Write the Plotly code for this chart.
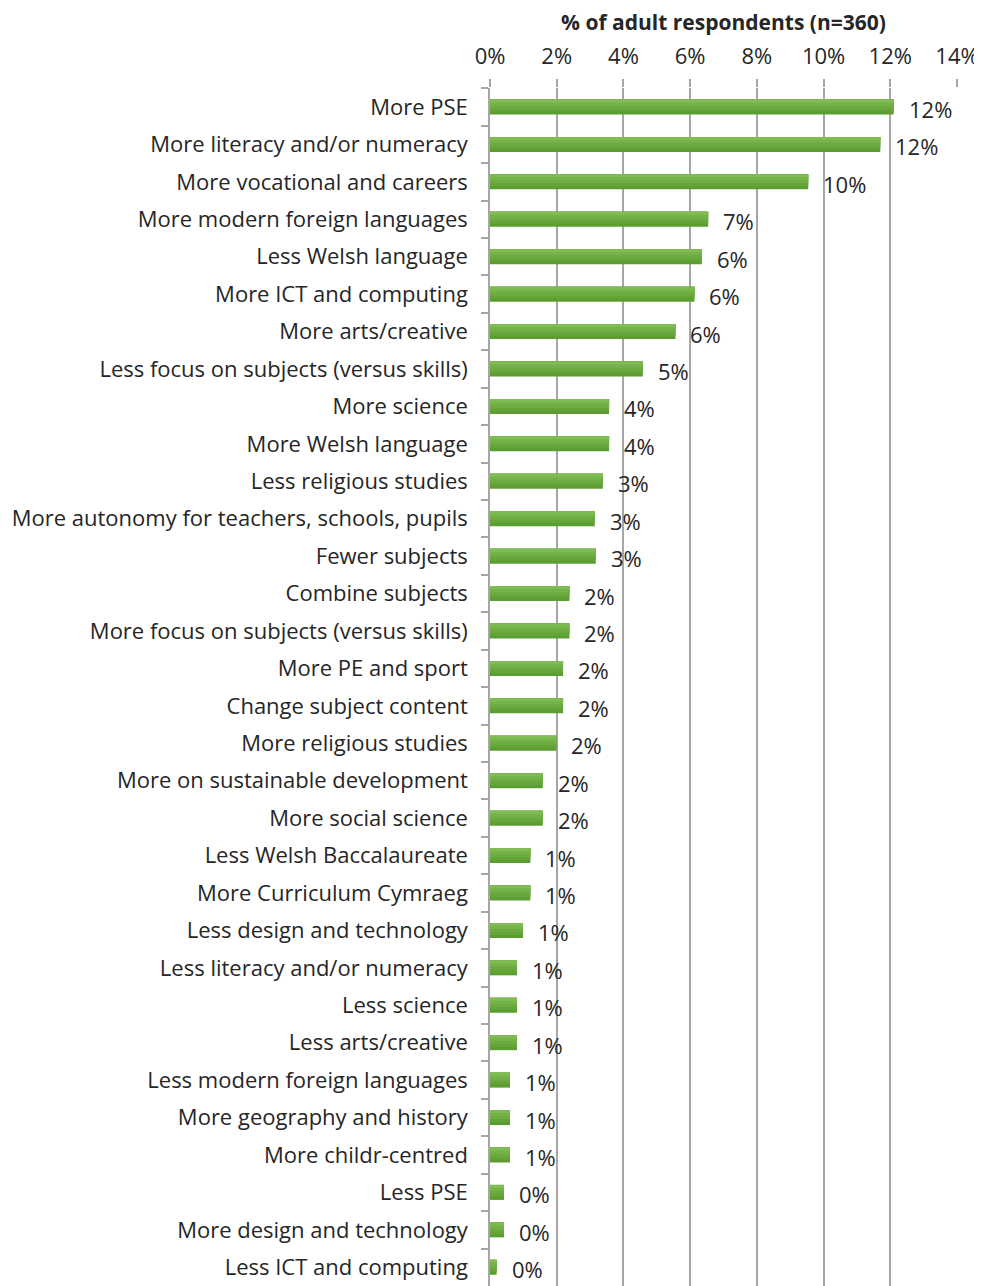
import plotly.graph_objects as go

categories = [
    "More PSE", "More literacy and/or numeracy", "More vocational and careers",
    "More modern foreign languages", "Less Welsh language", "More ICT and computing",
    "More arts/creative", "Less focus on subjects (versus skills)", "More science",
    "More Welsh language", "Less religious studies",
    "More autonomy for teachers, schools, pupils", "Fewer subjects", "Combine subjects",
    "More focus on subjects (versus skills)", "More PE and sport", "Change subject content",
    "More religious studies", "More on sustainable development", "More social science",
    "Less Welsh Baccalaureate", "More Curriculum Cymraeg", "Less design and technology",
    "Less literacy and/or numeracy", "Less science", "Less arts/creative",
    "Less modern foreign languages", "More geography and history", "More childr-centred",
    "Less PSE", "More design and technology", "Less ICT and computing",
]
values = [
    12.1, 11.7, 9.54, 6.54, 6.35, 6.13, 5.56, 4.58, 3.57, 3.57, 3.38,
    3.14, 3.17, 2.38, 2.38, 2.19, 2.19, 1.99, 1.58, 1.58, 1.21, 1.21,
    0.99, 0.81, 0.81, 0.81, 0.6, 0.6, 0.6, 0.42, 0.42, 0.2,
]
x_ticks = [0, 2, 4, 6, 8, 10, 12, 14]

FONT = "Open Sans"
SIZE = 22
TXT = "#262626"

# gradient: full darker bar, then lighter bars overlapping from the top
bar_w = 0.4
layers = [(1.0, "#5c9d32"), (0.8, "#64a438"), (0.6, "#6cab40"), (0.4, "#75b348"), (0.2, "#80bc54")]

fig = go.Figure()
for frac, c in layers:
    fig.add_trace(go.Bar(
        x=values, y=categories, orientation="h",
        width=bar_w * frac, offset=-bar_w / 2,
        marker=dict(color=c, line=dict(width=0)),
        hoverinfo="skip", showlegend=False,
    ))

for cat, v in zip(categories, values):
    fig.add_annotation(
        x=v, y=cat, xref="x", yref="y", text=f"{v:.0f}%",
        showarrow=False, xanchor="left", xshift=13, yshift=-2,
        font=dict(family=FONT, size=SIZE, color=TXT),
    )

fig.update_layout(
    width=974, height=1278,
    margin=dict(l=482, r=25, t=80, b=0),
    barmode="overlay",
    plot_bgcolor="white", paper_bgcolor="white",
    font=dict(family=FONT, size=SIZE, color=TXT),
    xaxis=dict(
        side="top", range=[0, 14], tickvals=x_ticks,
        ticktext=[f"{t}%" for t in x_ticks],
        showgrid=True, gridcolor="#a6a6a6", gridwidth=1.5,
        ticks="outside", ticklen=8, tickcolor="#a6a6a6", tickwidth=1.5,
        ticklabelstandoff=6,
        showline=False, zeroline=False, automargin=False,
        tickfont=dict(family=FONT, size=SIZE, color=TXT),
        title=dict(text="<b>% of adult respondents (n=360)</b>",
                   font=dict(family=FONT, size=21, color=TXT), standoff=6),
    ),
    yaxis=dict(
        autorange="reversed", type="category",
        showline=True, linecolor="#a6a6a6", linewidth=1.5,
        ticks="outside", ticklen=7, tickcolor="#a6a6a6", tickwidth=1.5,
        tickson="boundaries", ticklabelstandoff=16,
        showgrid=False, automargin=False,
        tickfont=dict(family=FONT, size=SIZE, color=TXT),
    ),
)

fig.write_html("out.html")
